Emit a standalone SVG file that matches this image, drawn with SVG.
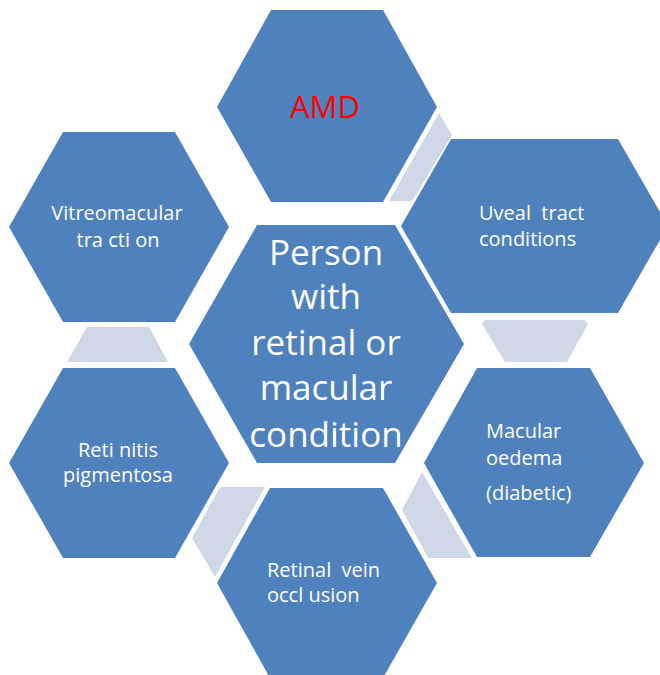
<svg xmlns="http://www.w3.org/2000/svg" width="660" height="675" viewBox="0 0 660 675">
  <style>
    .hex { fill: #4F81BD; }
    .link { fill: #D0D8E8; }
    .lbl { font-family: "Open Sans", "Liberation Sans", sans-serif; font-size: 20px; fill: #FFFFFF; }
    .mid { text-anchor: middle; }
    .big { font-family: "Open Sans", "Liberation Sans", sans-serif; font-size: 35px; fill: #FFFFFF; text-anchor: middle; }
    .red { font-family: "Open Sans", "Liberation Sans", sans-serif; font-size: 31px; fill: #FF0000; text-anchor: middle; }
  </style>
  <rect width="660" height="675" fill="#FFFFFF"/>

  <!-- light joiners between neighbouring outer hexagons -->
  <g id="connectors">
    <polygon class="link" points="439,113 452,135 412,201 389,201"/>
    <polygon class="link" points="485,320 585,320 588,324 567,362 505,362 482,324"/>
    <polygon class="link" points="422,472 472,558 428,558 402,510"/>
    <polygon class="link" points="220,487 265,487 215,577 192,538"/>
    <polygon class="link" points="87,327 149,327 168,362 67,362"/>
  </g>

  <g id="center">
    <polygon class="hex" points="257,225 395,225 464,344 395,463 257,463 189,344"/>
    <text class="big" x="326" y="265">Person </text>
    <text class="big" x="326" y="309">with</text>
    <text class="big" x="326" y="355">retinal or</text>
    <text class="big" x="326" y="400">macular</text>
    <text class="big" x="326" y="447">condition</text>
  </g>

  <g id="amd">
    <polygon class="hex" points="271,10 383,10 437,107 383,202 271,202 217,107"/>
    <text class="red" x="325" y="118">AMD</text>
  </g>

  <g id="uveal">
    <polygon class="hex" points="451,139 618,139 668,226 618,313 451,313 401,226"/>
    <text class="lbl" x="479" y="220" xml:space="preserve">Uveal  tract</text>
    <text class="lbl" x="479" y="246">conditions</text>
  </g>

  <g id="macular">
    <polygon class="hex" points="477,368 590,368 644,463 590,557 477,557 424,463"/>
    <text class="lbl" x="486" y="438">Macular</text>
    <text class="lbl" x="486" y="465">oedema</text>
    <text class="lbl" x="486" y="500">(diabetic)</text>
  </g>

  <g id="vein">
    <polygon class="hex" points="270,488 383,488 437,583 383,678 270,678 217,583"/>
    <text class="lbl" x="267" y="577" xml:space="preserve">Retinal  vein</text>
    <text class="lbl" x="267" y="602">occl usion</text>
  </g>

  <g id="retinitis">
    <polygon class="hex" points="63,368 175,368 229,463 175,558 63,558 9,463"/>
    <text class="lbl mid" x="118" y="457">Reti nitis</text>
    <text class="lbl mid" x="118" y="482">pigmentosa</text>
  </g>

  <g id="vitreomacular">
    <polygon class="hex" points="63,132 175,132 229,227 175,322 63,322 9,227"/>
    <text class="lbl mid" x="117" y="220">Vitreomacular</text>
    <text class="lbl mid" x="118" y="247">tra cti on</text>
  </g>
</svg>
